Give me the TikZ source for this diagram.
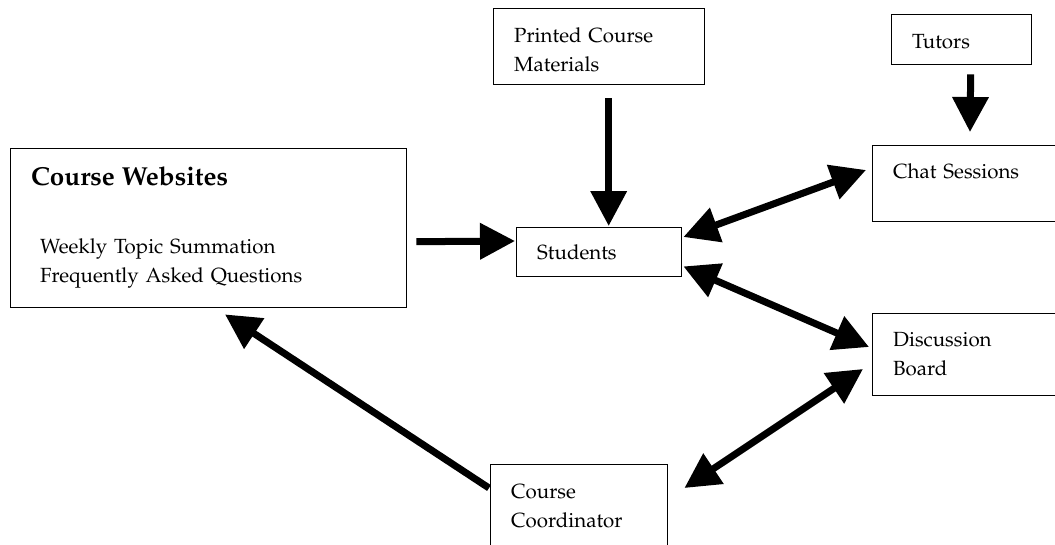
\documentclass[tikz,border=0pt]{standalone}
\usepackage[T1]{fontenc}
\renewcommand{\rmdefault}{ppl}
\usetikzlibrary{arrows.meta, calc}

\begin{document}
\begin{tikzpicture}[
    x=1pt, y=-1pt, font=\fontsize{20.5}{28.5}\selectfont,
    box/.style={draw, line width=1.4pt, anchor=north west, align=left,
                inner xsep=20.5pt, inner ysep=0pt},
    title/.style={font=\fontsize{26}{30}\selectfont\bfseries},
    flow/.style={draw, line width=7pt, -{Triangle[length=35pt, width=35pt]}},
    twoway/.style={draw, line width=7pt,
                   {Triangle[length=35pt, width=35pt]}-{Triangle[length=35pt, width=35pt]}},
]
\path[use as bounding box, clip] (0,0) rectangle (1055,544);

% ===================== Cajas =====================
\node[box, text width=355pt, text height=37pt, text depth=122pt] (web) at (10,148)
    {{\fontsize{26}{30}\selectfont\bfseries Course Websites}\\[39.5pt]
     \hspace*{9pt}Weekly Topic Summation\\
     \hspace*{9pt}Frequently Asked Questions};
\node[box, text width=170pt, text height=34pt, text depth=42pt] (print) at (493,8)
    {Printed Course\\Materials};
\node[box, text width=99pt, text height=34pt, text depth=16pt] (tutor) at (891,14) {Tutors};
\node[box, text width=250pt, text height=33pt, text depth=43pt] (chat) at (872,145) {Chat Sessions};
\node[box, text width=124pt, text height=32pt, text depth=17pt] (stud) at (516,227) {Students};
\node[box, text width=250pt, text height=33pt, text depth=49pt] (disc) at (872,313)
    {Discussion\\Board};
\node[box, text width=136pt, text height=34pt, text depth=100pt] (coord) at (490,464)
    {Course\\Coordinator};

% ===================== Flechas =====================
\draw[flow] ($(web.east)+(9,13.5)$) -- ($(stud.north west)+(-1,14)$);
\draw[flow] ($(print.south)+(9.5,13)$) -- ($(stud.north)+(9.5,-1)$);
\draw[flow] ($(tutor.south)+(9,9)$) -- ($(chat.north west)+(98,-13)$);

% las flechas dobles salen un poco separadas de las cajas
\draw[twoway] ($(stud.north east)+(1,10)$) -- ($(chat.north west)+(-6,25)$);
\draw[twoway] ($(stud.south east)+(1,-11)$) -- ($(disc.north west)+(-3,34)$);
\draw[twoway] ($(disc.north west)+(-9,56)$) -- ($(coord.north east)+(16,24)$);

\draw[flow] ($(coord.north west)+(-1,24)$) -- ($(web.south west)+(215,6)$);

\end{tikzpicture}
\end{document}
